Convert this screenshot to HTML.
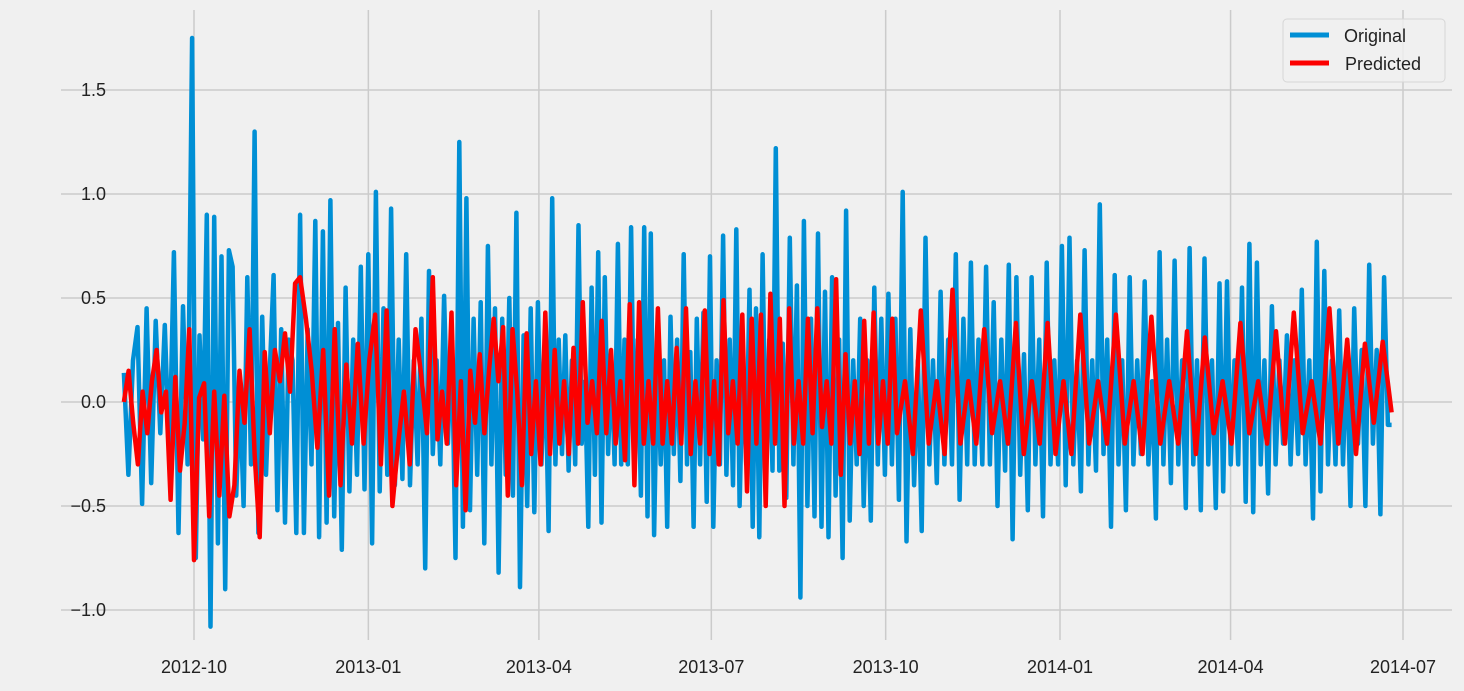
<!DOCTYPE html>
<html><head><meta charset="utf-8"><style>
body{margin:0;background:#f0f0f0;}
svg{display:block;font-family:"Liberation Sans","DejaVu Sans",sans-serif;}
</style></head><body>
<svg id="chart" width="1464" height="691" viewBox="0 0 1464 691" xmlns="http://www.w3.org/2000/svg">
<rect width="1464" height="691" fill="#f0f0f0"/>
<g id="grid"></g>
<g id="series"></g>
<g id="ticks"></g>
<g>
<rect x="1283" y="19" width="162" height="63" rx="4" fill="#f0f0f0" fill-opacity="0.8" stroke="#d6d6d6"/>
<line x1="1290" y1="35" x2="1329" y2="35" stroke="#008fd5" stroke-width="5"/>
<text x="1344" y="42" font-size="18" fill="#222">Original</text>
<line x1="1290" y1="63" x2="1329" y2="63" stroke="#fc0000" stroke-width="5"/>
<text x="1345" y="70" font-size="18" fill="#222">Predicted</text>
</g>
</svg>
<script>
const yTicks = [-1.0, -0.5, 0.0, 0.5, 1.0, 1.5];
const yTickLabels = ["\u22121.0", "\u22120.5", "0.0", "0.5", "1.0", "1.5"];
const xTicks = ["2012-10-01","2013-01-01","2013-04-01","2013-07-01","2013-10-01","2014-01-01","2014-04-01","2014-07-01"];
const xTickLabels = ["2012-10","2013-01","2013-04","2013-07","2013-10","2014-01","2014-04","2014-07"];
const original = [0.14,-0.35,0.2,0.36,-0.49,0.45,-0.39,0.39,-0.15,0.37,-0.28,0.72,-0.63,0.46,-0.3,1.75,-0.75,0.32,-0.18,0.9,-1.08,0.89,-0.68,0.7,-0.9,0.73,0.65,-0.45,0.05,-0.5,0.6,-0.3,1.3,-0.63,0.41,-0.35,0.15,0.61,-0.52,0.35,-0.58,0.3,0.2,-0.63,0.9,-0.63,0.35,-0.3,0.87,-0.65,0.82,-0.58,0.97,-0.55,0.38,-0.71,0.55,-0.43,0.3,-0.35,0.65,-0.42,0.71,-0.68,1.01,-0.43,0.45,-0.35,0.93,-0.4,0.3,-0.37,0.71,-0.4,0.2,-0.3,0.4,-0.8,0.63,-0.25,0.2,-0.3,0.51,-0.2,0.33,-0.75,1.25,-0.6,0.98,-0.52,0.4,-0.35,0.48,-0.68,0.75,-0.3,0.45,-0.82,0.4,-0.35,0.5,-0.45,0.91,-0.89,0.32,-0.5,0.45,-0.53,0.48,-0.3,0.25,-0.62,0.98,-0.3,0.3,-0.25,0.32,-0.33,0.2,-0.3,0.85,-0.2,0.1,-0.6,0.55,-0.35,0.72,-0.58,0.6,-0.25,0.2,-0.3,0.76,-0.3,0.3,-0.3,0.84,-0.3,0.3,-0.45,0.84,-0.55,0.81,-0.64,0.25,-0.3,0.2,-0.6,0.41,-0.25,0.3,-0.38,0.71,-0.3,0.24,-0.6,0.4,-0.3,0.43,-0.48,0.7,-0.6,0.2,-0.3,0.8,-0.35,0.3,-0.4,0.83,-0.5,0.2,-0.3,0.54,-0.6,0.45,-0.65,0.71,-0.33,0.3,-0.33,1.22,-0.33,0.28,-0.46,0.79,-0.3,0.56,-0.94,0.87,-0.5,0.4,-0.55,0.81,-0.6,0.53,-0.65,0.6,-0.45,0.3,-0.75,0.92,-0.57,0.2,-0.3,0.4,-0.5,0.2,-0.57,0.55,-0.3,0.4,-0.35,0.52,-0.3,0.4,-0.47,1.01,-0.67,0.35,-0.4,0.2,-0.62,0.79,-0.3,0.2,-0.39,0.53,-0.3,0.3,-0.3,0.71,-0.47,0.4,-0.3,0.67,-0.3,0.3,-0.3,0.65,-0.3,0.48,-0.5,0.3,-0.33,0.66,-0.66,0.6,-0.35,0.23,-0.52,0.6,-0.3,0.3,-0.55,0.67,-0.3,0.2,-0.3,0.75,-0.4,0.79,-0.3,0.2,-0.43,0.73,-0.3,0.2,-0.33,0.95,-0.25,0.3,-0.6,0.61,-0.3,0.2,-0.52,0.6,-0.3,0.2,-0.25,0.58,-0.3,0.1,-0.56,0.72,-0.3,0.3,-0.39,0.68,-0.3,0.2,-0.51,0.74,-0.3,0.2,-0.52,0.69,-0.3,0.2,-0.51,0.57,-0.43,0.58,-0.3,0.2,-0.3,0.55,-0.48,0.76,-0.53,0.67,-0.3,0.2,-0.44,0.46,-0.3,0.2,-0.2,0.32,-0.3,0.2,-0.25,0.54,-0.3,0.2,-0.56,0.77,-0.43,0.63,-0.3,0.2,-0.3,0.44,-0.3,0.26,-0.5,0.45,-0.2,0.25,-0.5,0.66,-0.2,0.25,-0.54,0.6,-0.11,-0.11];
const originalAnchorIdx = [0, 15, 32, 86, 112, 180, 215, 267, -1];
const originalAnchorDates = ["2012-08-25","2012-09-30","2012-11-02","2013-02-18","2013-04-08","2013-08-04","2013-10-08","2014-01-20","2014-06-25"];
const predicted = [0,0.15,-0.1,-0.3,0.05,-0.15,0.1,0.25,-0.05,0.05,-0.47,0.12,-0.33,-0.1,0.35,-0.76,0.02,0.09,-0.55,0.05,-0.45,0.03,-0.55,-0.4,0.15,-0.1,0.35,-0.25,-0.65,0.24,-0.15,0.25,0.1,0.33,0.05,0.57,0.6,0.4,0.15,-0.22,0.25,-0.45,0.35,-0.4,0.18,-0.2,0.28,-0.2,0.2,0.42,-0.3,0.44,-0.5,-0.2,0.05,-0.3,0.35,0.13,-0.15,0.6,-0.18,0.05,-0.2,0.43,-0.4,0.1,-0.52,0.15,-0.1,0.23,-0.15,0.15,0.4,0.1,0.36,-0.45,0.35,0.05,-0.4,0.33,-0.25,0.1,-0.3,0.43,-0.25,0.25,-0.2,0.1,-0.25,0.26,-0.2,0.48,-0.1,0.1,-0.15,0.39,-0.15,0.25,-0.2,0.1,-0.28,0.47,-0.4,0.48,-0.2,0.1,-0.2,0.45,-0.2,0.1,-0.2,0.26,-0.2,0.45,-0.25,0.1,-0.2,0.44,-0.25,0.1,-0.3,0.49,-0.15,0.1,-0.2,0.42,-0.43,0.4,-0.2,0.42,-0.5,0.52,-0.2,0.4,-0.5,0.45,-0.2,0.1,-0.2,0.4,-0.15,0.45,-0.12,0.1,-0.2,0.59,-0.35,0.23,-0.2,0.1,-0.25,0.39,-0.2,0.43,-0.2,0.1,-0.2,0.4,-0.15,0.1,-0.25,0.44,-0.2,0.1,-0.25,0.54,-0.2,0.1,-0.2,0.35,-0.15,0.1,-0.2,0.38,-0.25,0.1,-0.2,0.38,-0.25,0.1,-0.25,0.42,-0.2,0.1,-0.2,0.42,-0.2,0.1,-0.25,0.41,-0.2,0.1,-0.2,0.34,-0.25,0.31,-0.15,0.1,-0.2,0.38,-0.15,0.1,-0.2,0.34,-0.2,0.43,-0.15,0.1,-0.2,0.45,-0.2,0.3,-0.25,0.28,-0.1,0.29,-0.05];
const predictedAnchorIdx = [0, 15, 36, 59, 158, 180, -1];
const predictedAnchorDates = ["2012-08-25","2012-10-01","2012-11-26","2013-02-04","2013-10-07","2014-01-07","2014-06-25"];

const NS = "http://www.w3.org/2000/svg";
const DAY = 86400000;
const refDate = Date.parse("2012-10-01");
function xScale(ms){ return 194 + (ms - refDate)/DAY * (1403-194)/638; }
function yScale(v){ return 402 - v*208; }
const PL = 61, PR = 1452, PT = 10, PB = 640;
const grid = document.getElementById('grid');
const ticks = document.getElementById('ticks');
yTicks.forEach((v,i)=>{
  const l = document.createElementNS(NS,'line');
  l.setAttribute('x1',PL); l.setAttribute('x2',PR);
  l.setAttribute('y1',yScale(v)); l.setAttribute('y2',yScale(v));
  l.setAttribute('stroke','#cbcbcb'); l.setAttribute('stroke-width','1.5');
  
  
  grid.appendChild(l);
  const t = document.createElementNS(NS,'text');
  t.setAttribute('x',106); t.setAttribute('y',yScale(v)+6);
  t.setAttribute('text-anchor','end'); t.setAttribute('font-size','18'); t.setAttribute('fill','#222');
  t.textContent = yTickLabels[i];
  
  
  ticks.appendChild(t);
});
xTicks.forEach((d,i)=>{
  const x = xScale(Date.parse(d));
  const l = document.createElementNS(NS,'line');
  l.setAttribute('x1',x); l.setAttribute('x2',x);
  l.setAttribute('y1',PT); l.setAttribute('y2',PB);
  l.setAttribute('stroke','#cbcbcb'); l.setAttribute('stroke-width','1.5');
  
  
  grid.appendChild(l);
  const t = document.createElementNS(NS,'text');
  t.setAttribute('x',x); t.setAttribute('y',673);
  t.setAttribute('text-anchor','middle'); t.setAttribute('font-size','18'); t.setAttribute('fill','#222');
  t.textContent = xTickLabels[i];
  
  
  ticks.appendChild(t);
});
function dateAt(i, n, aIdx, aDates){
  const idx = aIdx.map(a => a < 0 ? n-1 : a);
  const ms = aDates.map(d => Date.parse(d));
  for (let k=0; k<idx.length-1; k++){
    if (i <= idx[k+1]) return ms[k] + (ms[k+1]-ms[k])*(i-idx[k])/(idx[k+1]-idx[k]);
  }
  return ms[ms.length-1];
}
function pathFor(arr, aIdx, aDates){
  return arr.map((v,i)=>{
    const ms = dateAt(i, arr.length, aIdx, aDates);
    return (i?'L':'M') + xScale(ms).toFixed(1) + ',' + yScale(v).toFixed(1);
  }).join('');
}
const series = document.getElementById('series');
const p1 = document.createElementNS(NS,'path');
p1.setAttribute('d',pathFor(original, originalAnchorIdx, originalAnchorDates));
p1.setAttribute('fill','none'); p1.setAttribute('stroke','#008fd5'); p1.setAttribute('stroke-width','4.5'); p1.setAttribute('stroke-linejoin','round');


series.appendChild(p1);
const p2 = document.createElementNS(NS,'path');
p2.setAttribute('d',pathFor(predicted, predictedAnchorIdx, predictedAnchorDates));
p2.setAttribute('fill','none'); p2.setAttribute('stroke','#fc0000'); p2.setAttribute('stroke-width','4.5'); p2.setAttribute('stroke-linejoin','round');


series.appendChild(p2);
</script>
</body></html>
